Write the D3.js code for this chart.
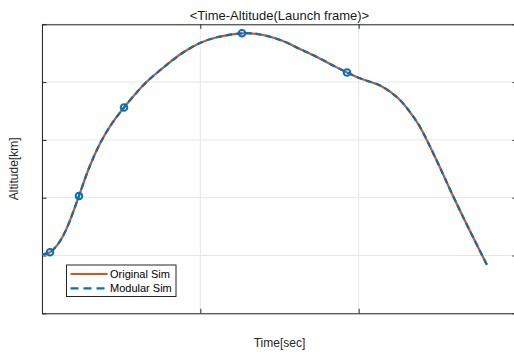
<!DOCTYPE html>
<html><head><meta charset="utf-8">
<script src="https://cdn.jsdelivr.net/npm/d3@7"></script>
<style>
html,body{margin:0;padding:0;background:#fff;}
svg{display:block;font-family:"Liberation Sans",Arial,sans-serif;}
</style></head>
<body>
<svg id="c" width="514" height="353"></svg>
<script>
// Data (time in sec, altitude in km)
const timeSec = [0, 10.1, 20.2, 29.1, 37.9, 46.7, 59.4, 73.3, 88.4, 103.6, 127.6, 142.7, 157.9, 178.1, 199.6, 221.1, 252.6, 275.4, 304.4, 325.9, 347.4, 367.6, 385.3, 401.7, 414.3, 427.0, 439.6, 452.2, 464.8, 477.5, 498.9, 519.2, 540.6, 562.1];
const altOriginal = [50.9, 52.8, 59.9, 70.3, 85.0, 101.5, 125.7, 146.9, 164.2, 178.0, 197.1, 206.6, 215.2, 225.6, 233.8, 238.8, 242.2, 241.2, 235.6, 228.6, 221.7, 214.4, 208.3, 203.3, 200.3, 197.1, 191.7, 184.5, 174.1, 161.2, 131.7, 101.5, 71.2, 41.8];
const altModular = altOriginal.slice();
const markerTime = [10.1, 46.7, 103.6, 252.6, 385.3];
const markerAlt = [52.8, 101.5, 178.0, 242.2, 208.3];
const xTicks = [0, 200, 400, 600];
const yTicks = [0, 50, 100, 150, 200, 250];
const seriesNames = ["Original Sim", "Modular Sim"];
const seriesColors = ["#D95319", "#0072BD"];

const svg = d3.select("#c");
const L = 42, R = 517, T = 24.3, B = 313.3;
const x = d3.scaleLinear().domain([0, 600]).range([L, R]);
const y = d3.scaleLinear().domain([0, 250]).range([B, T]);

// grid
const g = svg.append("g");
g.selectAll(".vg").data(xTicks).enter().append("line")
  .attr("x1", d => x(d)).attr("x2", d => x(d)).attr("y1", T).attr("y2", B)
  .attr("stroke", "#e6e6e6").attr("stroke-width", 1);
g.selectAll(".hg").data(yTicks).enter().append("line")
  .attr("y1", d => y(d)).attr("y2", d => y(d)).attr("x1", L).attr("x2", R)
  .attr("stroke", "#e6e6e6").attr("stroke-width", 1);

// axes (inward ticks, no labels)
function styleAxis(sel){
  sel.selectAll("path").attr("stroke", "#262626").attr("stroke-width", 1);
  sel.selectAll("line").attr("stroke", "#262626").attr("stroke-width", 1);
  sel.selectAll("text").remove();
}
svg.append("g").attr("transform", `translate(0,${B})`)
  .call(d3.axisBottom(x).tickValues(xTicks).tickSize(-4.5).tickSizeOuter(0).tickFormat("")).call(styleAxis);
svg.append("g").attr("transform", `translate(0,${T})`)
  .call(d3.axisTop(x).tickValues(xTicks).tickSize(-4.5).tickSizeOuter(0).tickFormat("")).call(styleAxis);
svg.append("g").attr("transform", `translate(${L},0)`)
  .call(d3.axisLeft(y).tickValues(yTicks).tickSize(-4.5).tickSizeOuter(0).tickFormat("")).call(styleAxis);
svg.append("g").attr("transform", `translate(${R},0)`)
  .call(d3.axisRight(y).tickValues(yTicks).tickSize(-4.5).tickSizeOuter(0).tickFormat("")).call(styleAxis);

// lines
const line = d3.line().x(d => x(d[0])).y(d => y(d[1])).curve(d3.curveCatmullRom.alpha(0.5));
svg.append("path").datum(timeSec.map((t, i) => [t, altOriginal[i]]))
  .attr("d", line).attr("fill", "none").attr("stroke", seriesColors[0]).attr("stroke-width", 2.2);
svg.append("path").datum(timeSec.map((t, i) => [t, altModular[i]]))
  .attr("d", line).attr("fill", "none").attr("stroke", seriesColors[1]).attr("stroke-width", 2.2)
  .attr("stroke-dasharray", "6,4");

// markers
svg.selectAll(".mk").data(markerTime.map((t, i) => [t, markerAlt[i]])).enter().append("circle")
  .attr("cx", d => x(d[0])).attr("cy", d => y(d[1])).attr("r", 3.3)
  .attr("fill", "none").attr("stroke", seriesColors[1]).attr("stroke-width", 2);

// legend
const lg = svg.append("g");
lg.append("rect").attr("x", 66.5).attr("y", 265).attr("width", 109.5).attr("height", 31.5)
  .attr("fill", "#fff").attr("stroke", "#262626").attr("stroke-width", 1);
[0, 1].forEach(i => {
  const yy = 274 + i * 14.3;
  lg.append("line").attr("x1", 70.5).attr("x2", 107.5).attr("y1", yy).attr("y2", yy)
    .attr("stroke", seriesColors[i]).attr("stroke-width", 2.2)
    .attr("stroke-dasharray", i ? "8,5" : null);
  lg.append("text").attr("x", 110).attr("y", yy).attr("dy", "0.35em")
    .attr("font-size", 11).attr("fill", "#000").text(seriesNames[i]);
});

// titles
svg.append("text").attr("x", (L + R) / 2).attr("y", 19.5).attr("text-anchor", "middle")
  .attr("font-size", 13).attr("fill", "#1a1a1a").text("<Time-Altitude(Launch frame)>");
svg.append("text").attr("x", (L + R) / 2).attr("y", 346.5).attr("text-anchor", "middle")
  .attr("font-size", 12).attr("fill", "#262626").text("Time[sec]");
svg.append("text").attr("transform", `translate(18,${(T + B) / 2}) rotate(-90)`)
  .attr("text-anchor", "middle").attr("font-size", 12).attr("fill", "#262626").text("Altitude[km]");
</script>
</body></html>
